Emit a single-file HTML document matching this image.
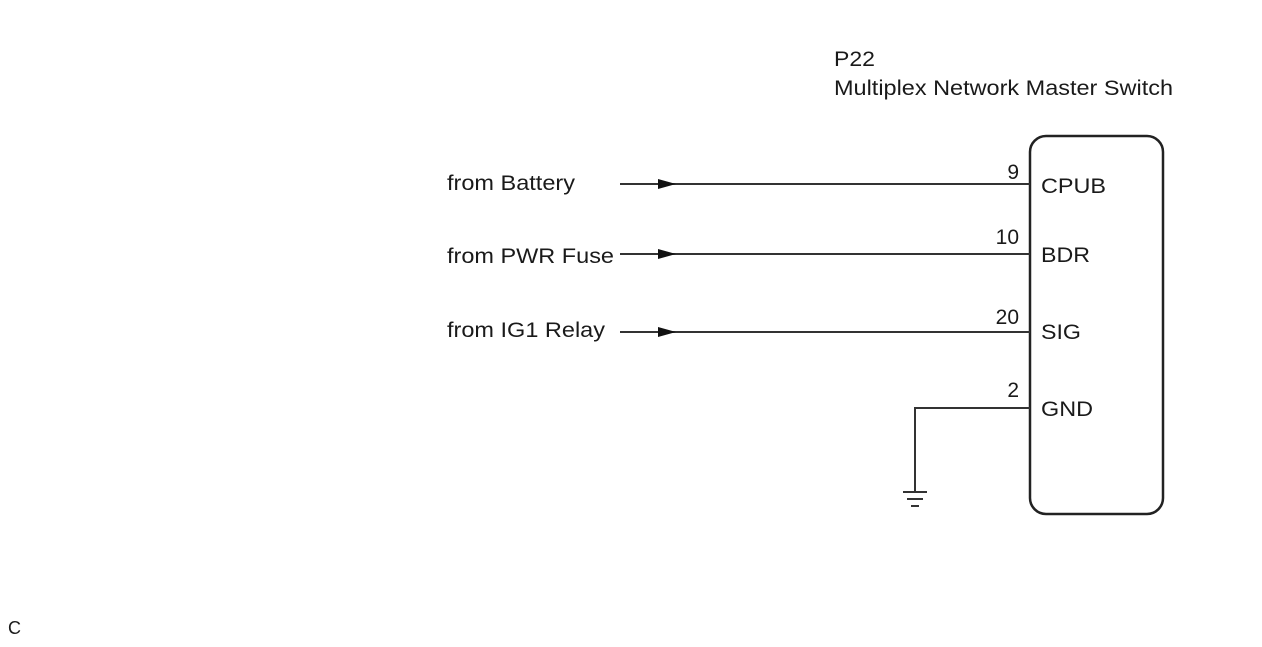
<!DOCTYPE html>
<html><head><style>
body{margin:0;background:#fff;}
svg text{font-family:"Liberation Sans",Arial,sans-serif;fill:#1a1a1a;}
</style></head><body>
<svg width="1262" height="642" viewBox="0 0 1262 642" xmlns="http://www.w3.org/2000/svg">
<g font-size="21">
<text x="834" y="66" textLength="41" lengthAdjust="spacingAndGlyphs">P22</text>
<text x="834" y="95" textLength="339" lengthAdjust="spacingAndGlyphs">Multiplex Network Master Switch</text>
<text x="447" y="190" textLength="128" lengthAdjust="spacingAndGlyphs">from Battery</text>
<text x="447" y="263" textLength="167" lengthAdjust="spacingAndGlyphs">from PWR Fuse</text>
<text x="447" y="337" textLength="158" lengthAdjust="spacingAndGlyphs">from IG1 Relay</text>
<text x="1041" y="193" textLength="65" lengthAdjust="spacingAndGlyphs">CPUB</text>
<text x="1041" y="262" textLength="49" lengthAdjust="spacingAndGlyphs">BDR</text>
<text x="1041" y="339" textLength="40" lengthAdjust="spacingAndGlyphs">SIG</text>
<text x="1041" y="416" textLength="52" lengthAdjust="spacingAndGlyphs">GND</text>
<text x="1019" y="179" text-anchor="end">9</text>
<text x="1019" y="244" text-anchor="end">10</text>
<text x="1019" y="324" text-anchor="end">20</text>
<text x="1019" y="397" text-anchor="end">2</text>
<text x="8" y="634" font-size="18">C</text>
</g>
<rect x="1030" y="136" width="133" height="378" rx="16" fill="none" stroke="#222" stroke-width="2.5"/>
<g stroke="#333" stroke-width="2" fill="none">
<line x1="620" y1="184" x2="1030" y2="184"/>
<line x1="620" y1="254" x2="1030" y2="254"/>
<line x1="620" y1="332" x2="1030" y2="332"/>
<polyline points="1030,408 915,408 915,492"/>
<line x1="903" y1="492" x2="927" y2="492"/>
<line x1="907" y1="499" x2="923" y2="499"/>
<line x1="911" y1="506" x2="919" y2="506"/>
</g>
<g fill="#111">
<polygon points="658,179 676,184 658,189"/>
<polygon points="658,249 676,254 658,259"/>
<polygon points="658,327 676,332 658,337"/>
</g>
</svg>
</body></html>
